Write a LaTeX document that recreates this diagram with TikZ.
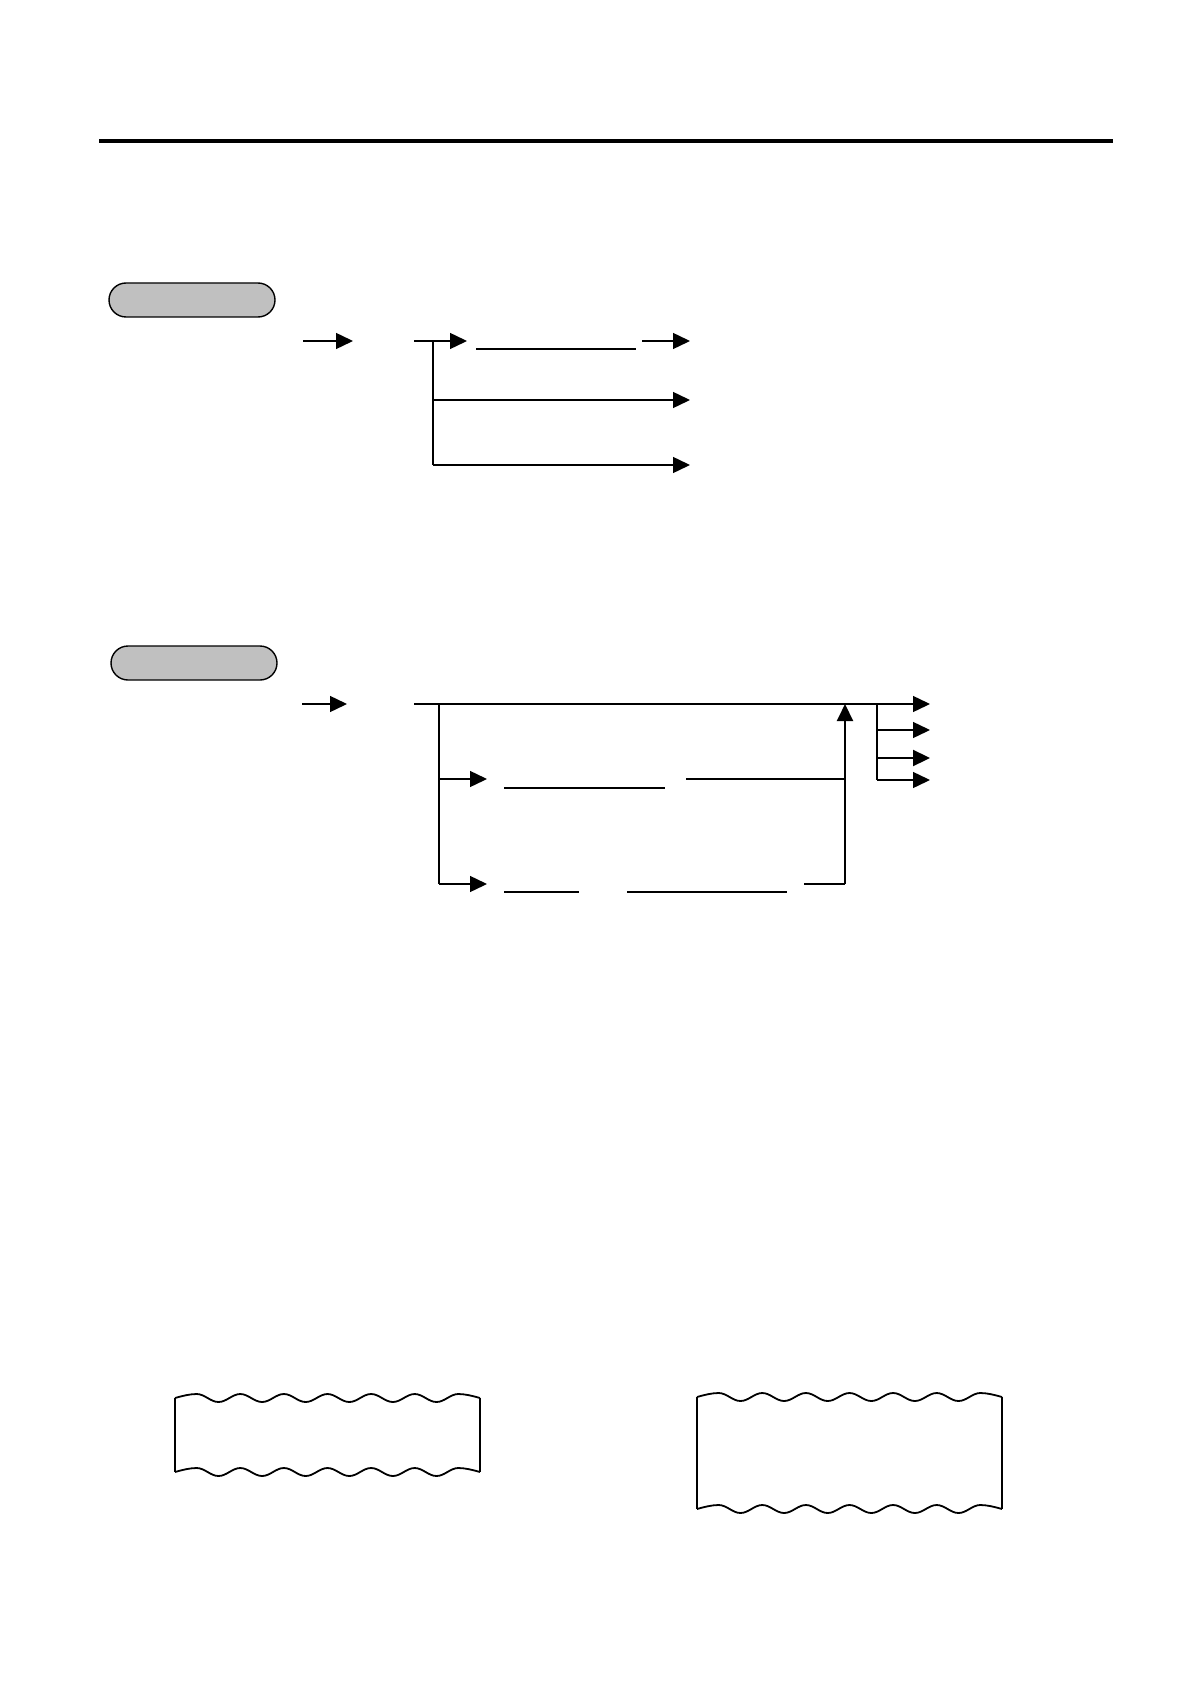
\documentclass[tikz,border=0pt]{standalone}
\usepackage{xcolor}
\usepackage{tikz}
\usetikzlibrary{arrows.meta}
\definecolor{pillgray}{RGB}{192,192,192}

\begin{document}
\begin{tikzpicture}[x=0.5pt, y=-0.5pt, line width=0.7pt,
  >={Triangle[length=8.5pt, width=8pt]},
  pill/.style={draw, fill=pillgray, rounded corners=8.5pt, inner sep=0pt,
    minimum width=83pt, minimum height=17pt},
  tape/.style={line width=0.9pt}]
\newcommand{\Halfwave}{21.8}; % half period of the tape edge
\newcommand{\Tapewave}[1]{\draw[tape] (#1) .. controls +(7,-2) and +(-7,0) .. ++(21.7,-4)
  \foreach \k in {1,...,6} { .. controls +(8,0) and +(-8,0) .. ++(\Halfwave,8)
    .. controls +(8,0) and +(-8,0) .. ++(\Halfwave,-8)}
  .. controls +(7,0) and +(-7,-2) .. ++(21.7,4);}

\useasboundingbox (0,0) rectangle (1190,1684);

% header rule
\coordinate (HL) at (99,141);
\coordinate (HR) at (1113,141);
\draw[line width=2pt] (HL) -- (HR);

% first chart
\node[pill] (P1) at (192,300) {};

\coordinate (A1) at (303,341);
\coordinate (A1e) at (353,341);
\coordinate (B1) at (414,341);
\coordinate (J1) at (433,341);
\coordinate (B1e) at (467,341);
\coordinate (J2) at (433,400);
\coordinate (J3) at (433,465);
\coordinate (C1) at (642,341);
\coordinate (E1) at (690,341);
\coordinate (E2) at (690,400);
\coordinate (E3) at (690,465);
\coordinate (U1) at (476,349);
\coordinate (U1e) at (636,349);

\draw[->] (A1) -- (A1e);
\draw[->] (B1) -- (B1e);
\draw (J1) -- (J3);
\draw (U1) -- (U1e);
\draw[->] (C1) -- (E1);
\draw[->] (J2) -- (E2);
\draw[->] (J3) -- (E3);

% second chart
\node[pill] (P2) at (194,663) {};

\coordinate (A2) at (302,704);
\coordinate (A2e) at (347,704);
\coordinate (M) at (414,704);
\coordinate (ME) at (930,704);
\coordinate (K1) at (439,704);
\coordinate (K2) at (439,779);
\coordinate (K3) at (439,884);
\coordinate (K2e) at (487,779);
\coordinate (K3e) at (487,884);
\coordinate (V1) at (504,788);
\coordinate (V1e) at (665,788);
\coordinate (V2) at (504,892);
\coordinate (V2e) at (579,892);
\coordinate (V3) at (627,892);
\coordinate (V3e) at (787,892);
\coordinate (W1) at (686,779);
\coordinate (W2) at (804,884);
\coordinate (UP) at (845,884);
\coordinate (UPm) at (845,779);
\coordinate (UPt) at (845,704);
\coordinate (R1) at (877,704);
\coordinate (R2) at (877,730);
\coordinate (R3) at (877,758);
\coordinate (R4) at (877,780);

\draw[->] (A2) -- (A2e);
\draw[->] (M) -- (ME);
\draw (K1) -- (K3);
\draw[->] (K2) -- (K2e);
\draw[->] (K3) -- (K3e);
\draw (V1) -- (V1e);
\draw[line width=1.3pt] (V2) -- (V2e);
\draw[line width=1.3pt] (V3) -- (V3e);
\draw (W1) -- (UPm);
\draw (W2) -- (UP);
\draw[->, line width=1pt] (UP) -- (UPt);
\draw (R1) -- (R4);
\foreach \r/\w in {R2/0.7pt, R3/1.1pt, R4/0.7pt}
  \draw[->, line width=\w] (\r) -- ++(53,0);

% paper tapes
\coordinate (T1a) at (175,1398);
\coordinate (T1b) at (175,1472);
\coordinate (T1c) at (480,1398);
\coordinate (T1d) at (480,1472);
\Tapewave{T1a}
\Tapewave{T1b}
\draw[tape] (T1a) -- (T1b);
\draw[tape] (T1c) -- (T1d);

\coordinate (T2a) at (697,1397);
\coordinate (T2b) at (697,1509);
\coordinate (T2c) at (1002,1397);
\coordinate (T2d) at (1002,1509);
\Tapewave{T2a}
\Tapewave{T2b}
\draw[tape] (T2a) -- (T2b);
\draw[tape] (T2c) -- (T2d);
\end{tikzpicture}
\end{document}
